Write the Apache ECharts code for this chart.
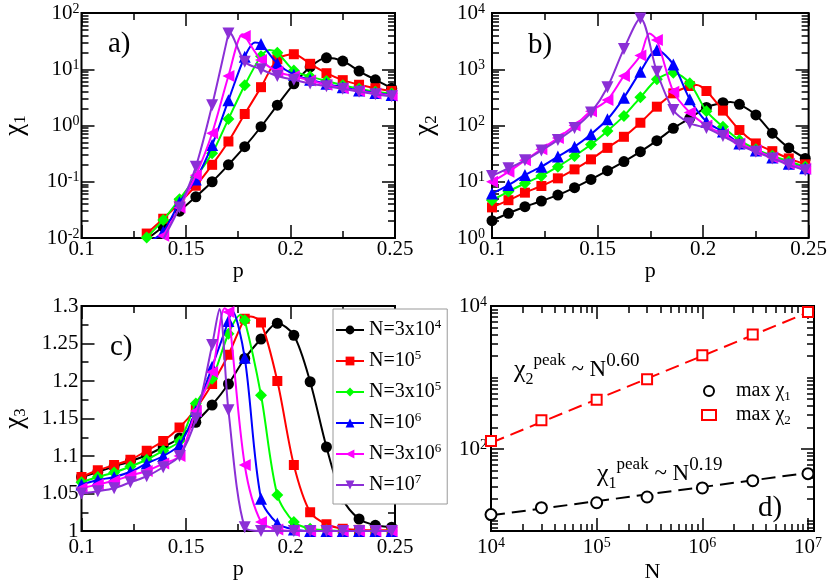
<!DOCTYPE html>
<html><head><meta charset="utf-8">
<script src="https://cdn.jsdelivr.net/npm/echarts@6/dist/echarts.min.js"></script>
<style>html,body{margin:0;padding:0;background:#fff}#c{width:830px;height:584px}</style>
</head><body><div id="c"></div>
<script>
const F = 'Liberation Serif';
// ---------- data ----------
const p = [0.1,0.1078,0.1156,0.1234,0.1312,0.1391,0.1469,0.1547,0.1625,0.1703,0.1781,0.1859,0.1937,0.2016,0.2094,0.2172,0.225,0.2328,0.2406,0.2484];
const sizeNames = ['N=3x10^4','N=10^5','N=3x10^5','N=10^6','N=3x10^6','N=10^7'];
const sizeParts = [['3x10','4'],['10','5'],['3x10','5'],['10','6'],['3x10','6'],['10','7']];
const sizeUni = ['N=3x10⁴','N=10⁵','N=3x10⁵','N=10⁶','N=3x10⁶','N=10⁷'];

// panel a: chi_1
const chi1_N3e4 = [null,null,null,null,0.0095,0.016,0.030,0.054,0.10,0.20,0.42,0.95,2.3,5.5,11,16,14,9.3,6.5,4.6];
const chi1_N1e5 = [null,null,null,null,0.012,0.022,0.042,0.085,0.2,0.52,1.6,4.8,15,18.5,12.5,8.5,6.4,5.3,4.6,4.1];
const chi1_N3e5 = [null,null,null,null,0.0102,0.021,0.049,0.12,0.32,1.3,5.2,17,19.7,9.5,7.4,6.2,5.2,4.5,4.0,3.7];
const chi1_N1e6 = [null,null,null,null,0.008,0.013,0.043,0.11,0.45,2.8,16.7,28,12.7,8.0,6.5,5.5,4.8,4.2,3.8,3.5];
const chi1_N3e6 = [null,null,null,null,null,0.011,0.035,0.13,0.73,7.6,39,14.6,9.1,7.5,6.3,5.3,4.6,4.1,3.7,3.4];
const chi1_N1e7 = [null,null,null,null,null,0.0095,0.035,0.185,2.3,43,13.6,10,7.6,6.5,5.6,5.0,4.5,4.0,3.6,3.3];
const chi1_peakP = [null,null,0.190,0.183,0.177,0.1705];
const chi1_peakV = [null,null,22,30,42,46];

// panel b: chi_2
const chi2_N3e4 = [2.03,2.75,3.6,4.55,5.8,7.85,11,15.7,22.8,34.3,53.7,89,134,210,255,238,154,73,40,26];
const chi2_N1e5 = [3.5,4.7,6.4,8.4,11.5,16.6,25,40,63,112,216,373,504,410,184,83,48,35,26,20.4];
const chi2_N3e5 = [4.7,6.7,9.4,12.7,18.5,28.7,46,80,148,317,662,870,562,180,95,55,38,29,23,18.5];
const chi2_N1e6 = [6.2,8.75,13.2,18.5,28,42,70,129,313,906,2200,1220,292,117,78,48,36,27,21,17.3];
const chi2_N3e6 = [10,15,24,38,60,100,180,284,760,1750,3300,400,170,100,70,48,36,27,21,17];
const chi2_N1e7 = [12.7,17.4,24,36,55,90,170,480,2300,8000,900,189,110,90,65,45,34,26,20,16];
const chi2_peakP = [0.213,0.197,null,null,0.1745,null];
const chi2_peakV = [263,525,null,null,4300,null];

// panel c: chi_3
const chi3_N3e4 = [1.072,1.0787,1.086,1.093,1.101,1.112,1.124,1.145,1.168,1.196,1.23,1.256,1.277,1.261,1.199,1.112,1.043,1.016,1.0076,1.005];
const chi3_N1e5 = [1.072,1.081,1.088,1.095,1.107,1.12,1.138,1.163,1.196,1.235,1.283,1.278,1.2,1.088,1.025,1.009,1.003,1.0015,1.001,1.001];
const chi3_N3e5 = [1.065,1.072,1.078,1.086,1.095,1.107,1.12,1.17,1.203,1.263,1.281,1.181,1.048,1.012,1.003,1.001,1.0,1.0,1.0,1.0];
const chi3_N1e6 = [1.062,1.068,1.072,1.079,1.09,1.1,1.115,1.16,1.219,1.28,1.231,1.043,1.01,1.002,1.0,1.0,1.0,1.0,1.0,1.0];
const chi3_N3e6 = [1.057,1.062,1.067,1.074,1.08,1.09,1.1,1.16,1.212,1.292,1.088,1.012,1.002,1.0,1.0,1.0,1.0,1.0,1.0,1.0];
const chi3_N1e7 = [1.05,1.053,1.057,1.065,1.073,1.085,1.1,1.15,1.248,1.161,1.005,1.0,1.0,1.0,1.0,1.0,1.0,1.0,1.0,1.0];
const chi3_peakP = [null,0.181,0.176,0.172,0.1685,0.166];
const chi3_peakV = [null,1.286,1.288,1.294,1.297,1.296];

// panel d: peak heights vs N
const Nvals = [1e4,3e4,1e5,3e5,1e6,3e6,1e7];
const maxChi1 = [12.1,15.1,17.7,21.3,28.5,36.0,45.2];
const maxChi2 = [129,252,490,945,2040,3990,8250];
const fitN = [1e4,1.14e7];
const fitChi1 = [11.8,47.5];
const fitChi2 = [122,8800];

// ---------- styles ----------
const colors = ['#000000','#ff0000','#00ff00','#0000ff','#ff00ff','#8b2fd6'];
const symbols = ['circle','rect','diamond','triangle','triangle','triangle'];
const rots = [0,0,0,0,90,180];
const symSizes = [11,10,12,12,12,12];
const lg = Math.log10;
const ident = v => v;

const numRich = () => ({
  b:{fontFamily:F,fontSize:21,color:'#000',lineHeight:22,verticalAlign:'middle'},
  e:{fontFamily:F,fontSize:14,color:'#000',lineHeight:11,verticalAlign:'top'}
});
const nameRich = () => ({
  c:{fontFamily:F,fontSize:27,color:'#000',lineHeight:30,verticalAlign:'middle'},
  s:{fontFamily:F,fontSize:17,color:'#000',lineHeight:17,verticalAlign:'bottom'},
  t:{fontFamily:F,fontSize:22,color:'#000',lineHeight:26,verticalAlign:'middle'}
});
const fmtLin = v => '{b|' + (+(+v).toFixed(3)) + '}';
const fmtLog = v => '{b|10}{e|' + Math.round(v) + '}';

function logTicks(a, b) { // minor ticks at k*10^n, in log space
  const t = [];
  for (let n = a; n < b; n++) for (let k = 2; k <= 9; k++) t.push(n + lg(k));
  return t;
}

function mkAxes(dim, gi, o) {
  const isX = dim === 'x';
  const pos = isX ? ['bottom','top'] : ['left','right'];
  const mk = (position, major, withLabel) => {
    const ax = {
      gridIndex:gi, type:'value', min:o.min, max:o.max, position, silent:true,
      splitLine:{show:false},
      axisLine:{show:false, onZero:false},
      axisTick:{show:true, inside:true, length: major ? 13 : 7, lineStyle:{color:'#000', width:1.5}, customValues: (major ? o.major : o.minor).slice()},
      axisLabel: withLabel ? {show:true, customValues:(o.labels || o.major).slice(), formatter:o.fmt, margin:o.margin, rich:numRich(), color:'#000', fontFamily:F, fontSize:21} : {show:false}
    };
    if (withLabel && o.name) {
      ax.name = o.name; ax.nameLocation = 'middle'; ax.nameGap = o.nameGap;
      ax.nameRotate = isX ? 0 : 90;
      ax.nameTextStyle = {rich:nameRich(), color:'#000', fontFamily:F, fontSize:22};
    }
    return ax;
  };
  return [mk(pos[0],true,true), mk(pos[0],false,false), mk(pos[1],true,false), mk(pos[1],false,false)];
}

const pAxis = (gi, margin, gap) => mkAxes('x', gi, {min:0.1, max:0.25, major:[0.1,0.15,0.2,0.25], minor:[0.125,0.175,0.225], fmt:fmtLin, margin, name:'{t|p}', nameGap:gap});

function buildAxes() {
  const xAxis = [].concat(
    pAxis(0, 0, 20), pAxis(1, 0, 20), pAxis(2, 5, 14),
    mkAxes('x', 3, {min:4, max:lg(1.14e7), major:[4,5,6,7], minor:logTicks(4,8).filter(v=>v<7.05), fmt:fmtLog, margin:5, name:'{t|N}', nameGap:28})
  );
  const yAxis = [].concat(
    mkAxes('y', 0, {min:-2, max:2, major:[-2,-1,0,1,2], minor:logTicks(-2,2), fmt:fmtLog, margin:2, name:'{c|χ}{s|1}', nameGap:52}),
    mkAxes('y', 1, {min:0, max:4, major:[0,1,2,3,4], minor:logTicks(0,4), fmt:fmtLog, margin:7, name:'{c|χ}{s|2}', nameGap:52}),
    mkAxes('y', 2, {min:1, max:1.3, major:[1,1.05,1.1,1.15,1.2,1.25,1.3], minor:[1.025,1.075,1.125,1.175,1.225,1.275], fmt:fmtLin, margin:3, name:'{c|χ}{s|3}', nameGap:52}),
    mkAxes('y', 3, {min:0.853, max:4, major:[2,4], labels:[2,4], minor:[0.903,0.954,1,3].concat(logTicks(1,4)), fmt:fmtLog, margin:4})
  );
  return {xAxis, yAxis};
}

function curveSeries(gi, arrays, peakP, peakV, tf) {
  return arrays.map((arr, j) => {
    const pts = [];
    p.forEach((x, i) => { if (arr[i] != null) pts.push({value:[x, tf(arr[i])]}); });
    if (peakP[j] != null) pts.push({value:[peakP[j], tf(peakV[j])], symbol:'none'});
    pts.sort((a, b) => a.value[0] - b.value[0]);
    return {
      type:'line', name:sizeNames[j], xAxisIndex:4*gi, yAxisIndex:4*gi, data:pts,
      smooth:0.3, symbol:symbols[j], symbolRotate:rots[j], symbolSize:symSizes[j], showSymbol:true,
      lineStyle:{color:colors[j], width:2}, itemStyle:{color:colors[j]},
      z:2+j, clip:true, animation:false
    };
  });
}

function buildSeries() {
  return [].concat(
    curveSeries(0, [chi1_N3e4,chi1_N1e5,chi1_N3e5,chi1_N1e6,chi1_N3e6,chi1_N1e7], chi1_peakP, chi1_peakV, lg),
    curveSeries(1, [chi2_N3e4,chi2_N1e5,chi2_N3e5,chi2_N1e6,chi2_N3e6,chi2_N1e7], chi2_peakP, chi2_peakV, lg),
    curveSeries(2, [chi3_N3e4,chi3_N1e5,chi3_N3e5,chi3_N1e6,chi3_N3e6,chi3_N1e7], chi3_peakP, chi3_peakV, ident),
    [
      {type:'line', xAxisIndex:12, yAxisIndex:12, data:fitN.map((n,i)=>[lg(n), lg(fitChi2[i])]), symbol:'none', lineStyle:{color:'#ff0000', width:2, type:[14,7]}, z:2, animation:false},
      {type:'line', xAxisIndex:12, yAxisIndex:12, data:fitN.map((n,i)=>[lg(n), lg(fitChi1[i])]), symbol:'none', lineStyle:{color:'#000', width:2, type:[14,7]}, z:2, animation:false},
      {type:'scatter', name:'max χ1', xAxisIndex:12, yAxisIndex:12, data:Nvals.map((n,i)=>[lg(n), lg(maxChi1[i])]), symbol:'circle', symbolSize:11, itemStyle:{color:'#fff', borderColor:'#000', borderWidth:2, opacity:1}, z:5, animation:false},
      {type:'scatter', name:'max χ2', xAxisIndex:12, yAxisIndex:12, data:Nvals.map((n,i)=>[lg(n), lg(maxChi2[i])]), symbol:'rect', symbolSize:10, itemStyle:{color:'#fff', borderColor:'#ff0000', borderWidth:2, opacity:1}, z:5, animation:false}
    ]
  );
}

const legRich = () => ({
  b:{fontFamily:F,fontSize:20,color:'#000',lineHeight:24,verticalAlign:'middle'},
  e:{fontFamily:F,fontSize:13,color:'#000',lineHeight:12,verticalAlign:'top'},
  s:{fontFamily:F,fontSize:13,color:'#000',lineHeight:12,verticalAlign:'bottom'},
  sp:{width:15}
});
const annRich = () => ({
  c:{fontFamily:F,fontSize:26,color:'#000',lineHeight:36,verticalAlign:'middle'},
  s:{fontFamily:F,fontSize:16,color:'#000',lineHeight:16,verticalAlign:'bottom'},
  u:{fontFamily:F,fontSize:17,color:'#000',lineHeight:16,verticalAlign:'top'},
  v:{fontFamily:F,fontSize:19,color:'#000',lineHeight:18,verticalAlign:'top'},
  t:{fontFamily:F,fontSize:23,color:'#000',lineHeight:36,verticalAlign:'middle'}
});
const gridBox = () => ({show:true, borderColor:'#000', borderWidth:2});

function buildOption(plainLegend) {
  const ax = buildAxes();
  const leg1 = {data:sizeNames, orient:'vertical', left:333, top:309, backgroundColor:'#fff', borderColor:'#999', borderWidth:1,
     padding:[9,6,9,2], itemWidth:28, itemHeight:11, itemGap:9, selectedMode:false, z:20,
     textStyle:{color:'#000', fontFamily:F, fontSize:20}};
  const leg2 = {data:['max χ1','max χ2'], orient:'vertical', left:701, top:381, padding:0, itemWidth:14, itemHeight:10, itemGap:2, selectedMode:false,
     textStyle:{color:'#000', fontFamily:F, fontSize:20}};
  if (plainLegend) {
    leg1.formatter = name => sizeUni[sizeNames.indexOf(name)];
    leg1.itemGap = 14;
    leg2.formatter = name => '   max χ' + (name.slice(-1) === '1' ? '₁' : '₂');
    leg2.itemGap = 4;
  } else {
    leg1.textStyle.rich = legRich();
    leg1.formatter = name => { const k = sizeNames.indexOf(name); return '{b|N=' + sizeParts[k][0] + '}{e|' + sizeParts[k][1] + '}'; };
    leg2.textStyle.rich = legRich();
    leg2.formatter = name => '{sp|}{b|max χ}{s|' + name.slice(-1) + '}';
  }
  return {
    backgroundColor:'#fff',
    animation:false,
    textStyle:{fontFamily:F},
    grid:[
      Object.assign({left:73, top:13, width:322, height:225}, gridBox()),
      Object.assign({left:492, top:13, width:322, height:225}, gridBox()),
      Object.assign({left:73, top:306, width:322, height:225}, gridBox()),
      Object.assign({left:491, top:306, width:323, height:225}, gridBox())
    ],
    xAxis:ax.xAxis, yAxis:ax.yAxis, series:buildSeries(),
    legend:[leg1, leg2],
    graphic:[
      {type:'text', x:108, y:44, style:{text:'a)', fontFamily:F, fontSize:29, fill:'#000', verticalAlign:'middle'}},
      {type:'text', x:528, y:45, style:{text:'b)', fontFamily:F, fontSize:29, fill:'#000', verticalAlign:'middle'}},
      {type:'text', x:110, y:347, style:{text:'c)', fontFamily:F, fontSize:29, fill:'#000', verticalAlign:'middle'}},
      {type:'text', x:758, y:508, style:{text:'d)', fontFamily:F, fontSize:29, fill:'#000', verticalAlign:'middle'}},
      {type:'text', x:514, y:370, style:{text:'{c|χ}{s|2}{u|peak}{t| ~ N}{v|0.60}', verticalAlign:'middle', fontFamily:F, rich:annRich()}},
      {type:'text', x:597, y:474, style:{text:'{c|χ}{s|1}{u|peak}{t| ~ N}{v|0.19}', verticalAlign:'middle', fontFamily:F, rich:annRich()}}
    ]
  };
}

// render, then verify that the inside ticks were really painted; fall back if not
const el = document.getElementById('c');
function ticksPainted(ch) {
  try {
    ch.getZr().refreshImmediately();
    const cv = el.querySelector('canvas');
    if (!cv) return true;
    const d = cv.getContext('2d').getImageData(542, 229, 8, 7).data;
    for (let i = 0; i < d.length; i += 4) if (d[i] < 140 && d[i+1] < 140 && d[i+2] < 140 && d[i+3] > 100) return true;
    return false;
  } catch (e) { return true; }
}
let chart = echarts.init(el);
chart.setOption(buildOption(false));
if (!ticksPainted(chart)) {
  chart.dispose();
  chart = echarts.init(el, null, {renderer:'svg'});
  chart.setOption(buildOption(false));
}
</script>
</body></html>
